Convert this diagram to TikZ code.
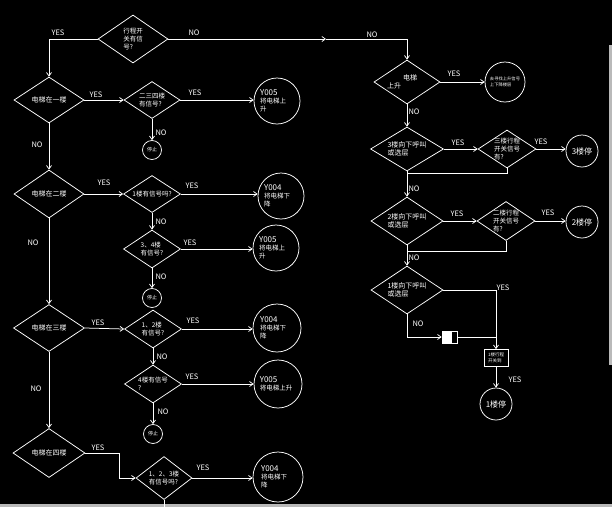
\documentclass[tikz,border=0pt]{standalone}
\usepackage{fontspec}
\setmainfont{Noto Sans CJK SC}
\usetikzlibrary{shapes.geometric,arrows.meta}
\begin{document}
\begin{tikzpicture}[x=1pt,y=-1pt,
  ln/.style={draw=white, line width=0.75pt},
  arr/.style={ln, -{Straight Barb[length=3.5pt,width=5pt]}},
  dia/.style={diamond, draw=white, line width=0.75pt, inner sep=0pt},
  crc/.style={circle, draw=white, line width=0.75pt, inner sep=0pt},
  lbl/.style={text=white, font=\fontsize{7}{8.5}\selectfont, align=left, inner sep=0pt},
  clbl/.style={text=white, font=\fontsize{6.5}{8}\selectfont, align=left, inner sep=0pt, xshift=-4pt},
  yn/.style={text=white, font=\fontsize{7.5}{8}\selectfont, inner sep=0pt},
  stp/.style={crc, minimum size=19pt, label={[text=white, font=\fontsize{5}{6}\selectfont, inner sep=0pt]center:停止}}
]
\useasboundingbox (0,0) rectangle (612,507);
\fill[black] (0,0) rectangle (612,507);
\fill[gray!55] (0,504) rectangle (612,507);
\fill[gray!55] (609,45) rectangle (612,365);

% ---------- top ----------
\node[dia, minimum width=70pt, minimum height=48pt, label={[lbl, font=\fontsize{6.5}{8}\selectfont]center:{行程开\\关有信\\号?}}] (t0) at (133,39) {};

% ---------- left column ----------
\node[dia, minimum width=70pt, minimum height=46pt, label={[lbl]center:{电梯在一楼}}] (f1) at (49,100) {};
\node[dia, minimum width=70pt, minimum height=48pt, label={[lbl]center:{电梯在二楼}}] (f2) at (49,194) {};
\node[dia, minimum width=71pt, minimum height=47pt, label={[lbl]center:{电梯在三楼}}] (f3) at (49,328) {};
\node[dia, minimum width=72pt, minimum height=49pt, label={[lbl]center:{电梯在四楼}}] (f4) at (49,453) {};

\node[dia, minimum width=56pt, minimum height=37pt, label={[lbl, font=\fontsize{6.5}{8}\selectfont]center:{二三四楼\\有信号?}}] (q1) at (152,100) {};
\node[dia, minimum width=57pt, minimum height=37pt, label={[lbl, font=\fontsize{6.5}{8}\selectfont]center:{1楼有信号吗?}}] (q2) at (152,194) {};
\node[dia, minimum width=57pt, minimum height=38pt, label={[lbl, font=\fontsize{6.5}{8}\selectfont]center:{3、4楼\\有信号?}}] (q3) at (152,249) {};
\node[dia, minimum width=57pt, minimum height=38pt, label={[lbl, font=\fontsize{6.5}{8}\selectfont]center:{1、2楼\\有信号?}}] (q4) at (153,329) {};
\node[dia, minimum width=57pt, minimum height=38pt, label={[lbl, font=\fontsize{6.5}{8}\selectfont]center:{4楼有信号\\?}}] (q5) at (153,384) {};
\node[dia, minimum width=56pt, minimum height=43pt, label={[lbl, font=\fontsize{6.5}{8}\selectfont]center:{1、2、3楼\\有信号吗?}}] (q6) at (164,478) {};

\node[crc, minimum size=46pt, label={[clbl]center:{{\fontsize{8}{9}\selectfont Y005}\\将电梯上\\升}}] (c1) at (277,101) {};
\node[crc, minimum size=46pt, label={[clbl]center:{{\fontsize{8}{9}\selectfont Y004}\\将电梯下\\降}}] (c2) at (281,196) {};
\node[crc, minimum size=46pt, label={[clbl]center:{{\fontsize{8}{9}\selectfont Y005}\\将电梯上\\升}}] (c3) at (276,248) {};
\node[crc, minimum size=48pt, label={[clbl]center:{{\fontsize{8}{9}\selectfont Y004}\\将电梯下\\降}}] (c4) at (277,328) {};
\node[crc, minimum size=48pt, label={[clbl, xshift=2pt]center:{{\fontsize{8}{9}\selectfont Y005}\\将电梯上升}}] (c5) at (278,384) {};
\node[crc, minimum size=50pt, label={[clbl]center:{{\fontsize{8}{9}\selectfont Y004}\\将电梯下\\降}}] (c6) at (278,477) {};

\node[stp] (s1) at (152,150) {};
\node[stp] (s2) at (152,298) {};
\node[stp] (s3) at (153,434) {};

% ---------- right column ----------
\node[dia, minimum width=66pt, minimum height=44pt, label={[lbl, xshift=-5pt]center:{\hspace{16pt}电梯\\上升}}] (r1) at (407,82) {};
\node[crc, minimum size=40pt, label={[text=white, font=\fontsize{4.3}{6}\selectfont, align=left, inner sep=0pt]center:{去寻找上升信号\\上下降楼层}}] (rc1) at (505,82) {};

\node[dia, minimum width=73pt, minimum height=44pt, label={[lbl]center:{3楼向下呼叫\\或选层}}] (r2) at (407,149) {};
\node[dia, minimum width=58pt, minimum height=38pt, label={[lbl, font=\fontsize{6.5}{8}\selectfont]center:{三楼行程\\开关信号\\有?}}] (r2b) at (507,149) {};
\node[crc, minimum size=32pt, label={[text=white, font=\fontsize{8}{9}\selectfont, inner sep=0pt]center:{3楼停}}] (rs3) at (582,151) {};

\node[dia, minimum width=72pt, minimum height=48pt, label={[lbl]center:{2楼向下呼叫\\或选层}}] (r3) at (407,221) {};
\node[dia, minimum width=58pt, minimum height=39pt, label={[lbl, font=\fontsize{6.5}{8}\selectfont]center:{二楼行程\\开关信号\\有?}}] (r3b) at (506,221) {};
\node[crc, minimum size=32pt, label={[text=white, font=\fontsize{8}{9}\selectfont, inner sep=0pt]center:{2楼停}}] (rs2) at (582,222) {};

\node[dia, minimum width=72pt, minimum height=48pt, label={[lbl]center:{1楼向下呼叫\\或选层}}] (r4) at (407,290) {};
\node[draw=white, line width=0.75pt, minimum width=15pt, minimum height=12pt, inner sep=0pt,
  path picture={\fill[white] (path picture bounding box.south west) rectangle ([xshift=-5pt]path picture bounding box.north east);}] (sq) at (449.5,337) {};
\node[draw=white, line width=0.75pt, minimum width=24pt, minimum height=17pt, inner sep=0pt,
  label={[text=white, font=\fontsize{4.5}{5.5}\selectfont, align=left, inner sep=0pt]center:{1楼行程\\开关到}}] (bx) at (496,358) {};
\node[crc, minimum size=32pt, label={[text=white, font=\fontsize{8}{9}\selectfont, inner sep=0pt]center:{1楼停}}] (rs1) at (496,404) {};

% ---------- coordinates ----------
\coordinate (m1) at (326,39);
\coordinate (k1) at (119,453);
\coordinate (e1) at (164,507);
\coordinate (j1) at (407,173);
\coordinate (j2) at (407,251);
\coordinate (j3) at (496,337);

% ---------- connectors ----------
\draw[arr] (t0.west) -| (f1.north);
\draw[arr] (t0.east) -- (m1);
\draw[arr] (m1) -| (r1.north);

\draw[arr] (f1.east) -- (q1.west);
\draw[arr] (q1.east) -- (c1.west |- q1.east);
\draw[arr] (q1.south) -- (s1.north);
\draw[arr] (f1.south) -- (f2.north);
\draw[arr] (f2.east) -- (q2.west);
\draw[arr] (q2.east) -- (c2.west |- q2.east);
\draw[arr] (q2.south) -- (q3.north);
\draw[arr] (q3.east) -- (c3.west |- q3.east);
\draw[arr] (q3.south) -- (s2.north);
\draw[arr] (f2.south) -- (f3.north);
\draw[arr] (f3.east) -- (q4.west);
\draw[arr] (q4.east) -- (c4.west |- q4.east);
\draw[arr] (q4.south) -- (q5.north);
\draw[arr] (q5.east) -- (c5.west |- q5.east);
\draw[arr] (q5.south) -- (s3.north);
\draw[arr] (f3.south) -- (f4.north);
\draw[arr] (f4.east) -- (k1) |- (q6.west);
\draw[arr] (q6.east) -- (c6.west |- q6.east);
\draw[ln] (q6.south) -- (e1);

\draw[arr] (r1.east) -- (rc1.west);
\draw[arr] (r1.south) -- (r2.north);
\draw[arr] (r2.east) -- (r2b.west);
\draw[arr] (r2b.east) -- (rs3.west |- r2b.east);
\draw[ln] (r2b.south) |- (j1);
\draw[arr] (r2.south) -- (r3.north);
\draw[arr] (r3.east) -- (r3b.west);
\draw[arr] (r3b.east) -- (rs2.west |- r3b.east);
\draw[ln] (r3b.south) |- (j2);
\draw[arr] (r3.south) -- (r4.north);
\draw[arr] (r4.east) -| (bx.north);
\draw[arr] (r4.south) |- (sq.west);
\draw[ln] (sq.east) -- (j3);
\draw[arr] (bx.south) -- (rs1.north);

% ---------- YES / NO labels ----------
\node[yn] (l1) at (58,33) {YES};
\node[yn] (l2) at (194,33) {NO};
\node[yn] (l3) at (372,35) {NO};
\node[yn] (l4) at (96,95) {YES};
\node[yn] (l5) at (195,93) {YES};
\node[yn] (l6) at (161,133) {NO};
\node[yn] (l7) at (37,145) {NO};
\node[yn] (l8) at (104,183) {YES};
\node[yn] (l9) at (192,186) {YES};
\node[yn] (l10) at (161,222) {NO};
\node[yn] (l11) at (190,243) {YES};
\node[yn] (l12) at (161,277) {NO};
\node[yn] (l13) at (33,243) {NO};
\node[yn] (l14) at (98,323) {YES};
\node[yn] (l15) at (193,321) {YES};
\node[yn] (l16) at (162,357) {NO};
\node[yn] (l17) at (192,377) {YES};
\node[yn] (l18) at (163,412) {NO};
\node[yn] (l19) at (36,389) {NO};
\node[yn] (l20) at (98,448) {YES};
\node[yn] (l21) at (203,468) {YES};
\node[yn] (l22) at (454,74) {YES};
\node[yn] (l23) at (414,112) {NO};
\node[yn] (l24) at (458,143) {YES};
\node[yn] (l25) at (541,142) {YES};
\node[yn] (l26) at (414,189) {NO};
\node[yn] (l27) at (457,214) {YES};
\node[yn] (l28) at (548,213) {YES};
\node[yn] (l29) at (414,258) {NO};
\node[yn] (l30) at (503,288) {YES};
\node[yn] (l31) at (418,324) {NO};
\node[yn] (l32) at (515,380) {YES};
\end{tikzpicture}
\end{document}
